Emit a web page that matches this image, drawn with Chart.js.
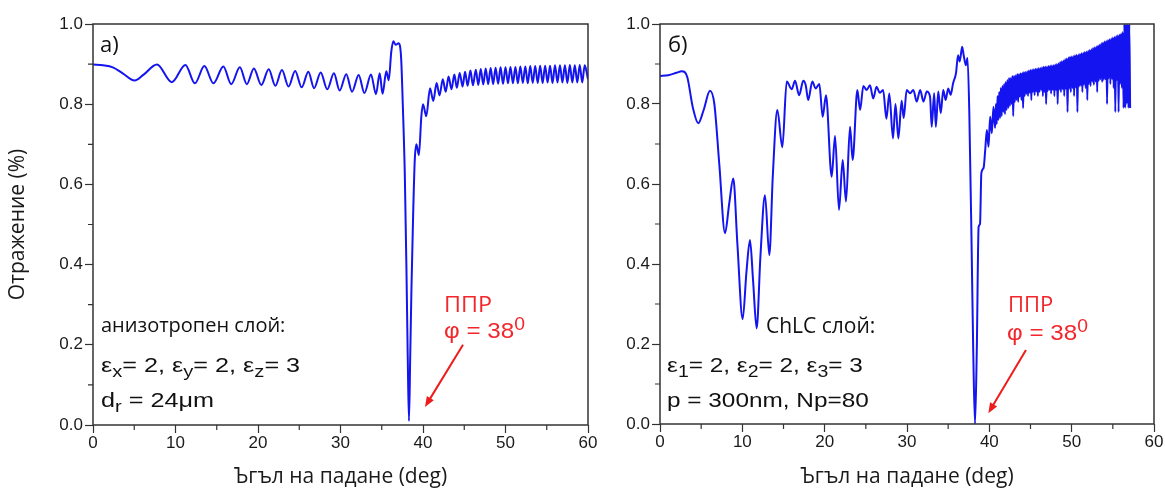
<!DOCTYPE html>
<html lang="bg">
<head>
<meta charset="UTF-8">
<title>Отражение - ППР</title>
<script src="https://cdn.jsdelivr.net/npm/chart.js"></script>
<style>
  body { margin: 0; background: #fff; width: 1165px; height: 493px; position: relative; overflow: hidden; }
  canvas { position: absolute; top: 0; }
  #chartA { left: 0; }
  #chartB { left: 600px; }
  .note { position: absolute; white-space: nowrap; line-height: 1; color: #111; transform-origin: 0 0; }
  .os { font-family: 'Open Sans', sans-serif; }
  .ar { font-family: 'Liberation Sans', Arial, sans-serif; }
  .red { color: #f2262b; }
  sub, sup { font-size: 80%; line-height: 0; }
</style>
</head>
<body>
<canvas id="chartA" width="600" height="493"></canvas>
<canvas id="chartB" width="565" height="493"></canvas>

<!-- надписи, панел а) -->
<div class="note os" style="left:100px; top:32px; font-size:22px;">a)</div>
<div class="note os" style="left:101px; top:315px; font-size:20px;">анизотропен слой:</div>
<div class="note ar" style="left:101px; top:354px; font-size:21px; transform:scaleX(1.2);">ε<sub>x</sub>= 2, ε<sub>y</sub>= 2, ε<sub>z</sub>= 3</div>
<div class="note ar" style="left:101px; top:389px; font-size:21px; transform:scaleX(1.2);">d<sub>r</sub> = 24μm</div>
<div class="note os red" style="left:444px; top:292px; font-size:22px; transform:scaleX(1.06);">ППР</div>
<div class="note ar red" style="left:444px; top:320px; font-size:22px; transform:scaleX(1.1);">φ = 38<sup>0</sup></div>

<!-- надписи, панел б) -->
<div class="note os" style="left:668px; top:32px; font-size:22px;">б)</div>
<div class="note os" style="left:766px; top:315px; font-size:21px;">ChLC слой:</div>
<div class="note ar" style="left:667px; top:354px; font-size:21px; transform:scaleX(1.16);">ε<sub>1</sub>= 2, ε<sub>2</sub>= 2, ε<sub>3</sub>= 3</div>
<div class="note ar" style="left:667px; top:389px; font-size:21px; transform:scaleX(1.16);">p = 300nm, Np=80</div>
<div class="note os red" style="left:1008px; top:292px; font-size:22px;">ППР</div>
<div class="note ar red" style="left:1007px; top:322px; font-size:22px; transform:scaleX(1.1);">φ = 38<sup>0</sup></div>

<script>
// а) анизотропен слой
const aAngle = [
  0, 1.2, 2.4, 3.6, 5.05, 6.1, 7.75, 9.55, 11.2, 12.35,
  13.5, 14.6, 15.8, 16.75, 17.8, 18.65, 19.5, 20.4, 21.3, 22.1,
  22.9, 23.7, 24.5, 25.3, 26.1, 26.8, 27.6, 28.4, 29.2, 29.9,
  30.7, 31.4, 32.2, 32.9, 33.7, 34.3, 34.75, 35.1, 35.55, 35.85,
  36.15, 36.4, 36.7, 37.05, 37.35, 37.55, 37.8, 38.0, 38.15, 38.3,
  38.45, 38.6, 38.8, 39.0, 39.2, 39.5, 39.8, 40.0, 40.4, 40.85,
  41.25, 41.65, 42.0, 42.4, 42.75, 43.1, 43.45, 43.8, 44.1, 44.45,
  44.8, 45.1, 45.4, 45.75, 46.05, 46.4, 46.7, 47.0, 47.3, 47.6,
  47.9, 48.2, 48.5, 48.8, 49.1, 49.4, 49.7, 50.0, 50.3, 50.6,
  50.9, 51.2, 51.5, 51.8, 52.1, 52.4, 52.7, 53.0, 53.3, 53.6,
  53.9, 54.2, 54.5, 54.8, 55.1, 55.4, 55.7, 56.0, 56.3, 56.6,
  56.9, 57.2, 57.5, 57.8, 58.1, 58.4, 58.7, 59.0, 59.3, 59.6, 60
];
const aRefl = [
  0.899, 0.897, 0.892, 0.877, 0.859, 0.873, 0.899, 0.855, 0.898, 0.852,
  0.895, 0.852, 0.894, 0.850, 0.892, 0.850, 0.889, 0.848, 0.887, 0.846,
  0.885, 0.844, 0.883, 0.842, 0.881, 0.840, 0.879, 0.837, 0.877, 0.834,
  0.875, 0.831, 0.873, 0.828, 0.874, 0.825, 0.877, 0.826, 0.882, 0.860,
  0.930, 0.957, 0.948, 0.952, 0.915, 0.800, 0.620, 0.380, 0.170, 0.010,
  0.170, 0.340, 0.520, 0.660, 0.700, 0.673, 0.770, 0.800, 0.770, 0.840,
  0.808, 0.853, 0.822, 0.862, 0.831, 0.869, 0.837, 0.874, 0.841, 0.878,
  0.844, 0.881, 0.846, 0.884, 0.847, 0.886, 0.848, 0.888, 0.849, 0.889,
  0.850, 0.890, 0.850, 0.891, 0.851, 0.892, 0.851, 0.892, 0.852, 0.893,
  0.852, 0.893, 0.852, 0.894, 0.853, 0.894, 0.852, 0.895, 0.853, 0.895,
  0.853, 0.896, 0.853, 0.896, 0.854, 0.896, 0.853, 0.897, 0.854, 0.897,
  0.854, 0.897, 0.853, 0.898, 0.854, 0.897, 0.854, 0.898, 0.854, 0.897, 0.862
];

// б) ChLC слой
const bAngle = [
  0, 1.0, 2.0, 2.65, 3.3, 4.0, 4.65, 5.3, 6.07, 6.6,
  7.2, 7.9, 8.4, 8.9, 9.4, 10.04, 10.5, 10.93, 11.3, 11.74,
  12.2, 12.75, 13.28, 13.7, 14.25, 14.86, 15.39, 16.0, 16.4, 16.9,
  17.4, 17.7, 18.0, 18.5, 18.9, 19.35, 19.76, 20.16, 20.85, 21.26,
  21.74, 22.19, 22.59, 23.08, 23.4, 23.97, 24.3, 24.7, 25.1, 25.5,
  25.9, 26.3, 26.7, 27.1, 27.5, 27.85, 28.3, 28.6, 28.95, 29.35,
  29.6, 29.96, 30.37, 30.77, 31.18, 31.6, 32.0, 32.4, 32.8, 33.0,
  33.3, 33.5, 33.8, 34.1, 34.4, 34.7, 35.0, 35.3, 35.6, 35.95,
  36.2, 36.4, 36.7, 36.9, 37.15, 37.35, 37.57, 37.86, 38.05, 38.26,
  38.47, 38.7, 38.87, 39.03, 39.3, 39.5, 39.7, 39.9, 40.1, 40.3,
  40.5,
  40.7, 40.8, 40.9, 41.0, 41.1, 41.2, 41.3, 41.4, 41.5, 41.6,
  41.7, 41.8, 41.9, 42.0, 42.1, 42.2, 42.3, 42.4, 42.5, 42.6,
  42.7, 42.8, 42.9, 43.0, 43.1, 43.2, 43.3, 43.4, 43.5, 43.6,
  43.7, 43.8, 43.9, 44.0, 44.1, 44.2, 44.3, 44.4, 44.5, 44.6,
  44.7, 44.8, 44.9, 45.0, 45.1, 45.2, 45.3, 45.4, 45.5, 45.6,
  45.7, 45.8, 45.9, 46.0, 46.1, 46.2, 46.3, 46.4, 46.5, 46.6,
  46.7, 46.8, 46.9, 47.0, 47.1, 47.2, 47.3, 47.4, 47.5, 47.6,
  47.7, 47.8, 47.9, 48.0, 48.1, 48.2, 48.3, 48.4, 48.5, 48.6,
  48.7, 48.8, 48.9, 49.0, 49.1, 49.2, 49.3, 49.4, 49.5, 49.6,
  49.7, 49.8, 49.9, 50.0, 50.1, 50.2, 50.3, 50.4, 50.5, 50.6,
  50.7, 50.8, 50.9, 51.0, 51.1, 51.2, 51.3, 51.4, 51.5, 51.6,
  51.7, 51.8, 51.9, 52.0, 52.1, 52.2, 52.3, 52.4, 52.5, 52.6,
  52.7, 52.8, 52.9, 53.0, 53.1, 53.2, 53.3, 53.4, 53.5, 53.6,
  53.7, 53.8, 53.9, 54.0, 54.1, 54.2, 54.3, 54.4, 54.5, 54.6,
  54.7, 54.8, 54.9, 55.0, 55.1, 55.2, 55.3, 55.4, 55.5, 55.6,
  55.7, 55.8, 55.9, 56.0, 56.1, 56.2, 56.3, 56.4, 56.5, 56.6,
  56.7, 56.8, 56.9, 57.0, 57.1
];
const bRefl = [
  0.870, 0.872, 0.878, 0.882, 0.868, 0.790, 0.752, 0.785, 0.833, 0.800,
  0.650, 0.477, 0.550, 0.614, 0.450, 0.262, 0.380, 0.460, 0.360, 0.239,
  0.420, 0.572, 0.422, 0.620, 0.785, 0.692, 0.856, 0.837, 0.858, 0.822,
  0.858, 0.847, 0.810, 0.856, 0.839, 0.850, 0.768, 0.822, 0.618, 0.720,
  0.535, 0.660, 0.556, 0.743, 0.660, 0.835, 0.785, 0.845, 0.835, 0.847,
  0.814, 0.843, 0.828, 0.835, 0.763, 0.826, 0.714, 0.800, 0.714, 0.808,
  0.765, 0.835, 0.827, 0.835, 0.806, 0.835, 0.806, 0.831, 0.818, 0.743,
  0.827, 0.743, 0.831, 0.777, 0.835, 0.810, 0.839, 0.823, 0.852, 0.877,
  0.922, 0.906, 0.943, 0.920, 0.897, 0.915, 0.777, 0.427, 0.177, 0.000,
  0.177, 0.493, 0.500, 0.627, 0.640, 0.685, 0.735, 0.693, 0.768, 0.727,
  0.793,
  0.740, 0.800, 0.750, 0.820, 0.760, 0.830, 0.765, 0.840, 0.770, 0.845,
  0.780, 0.850, 0.775, 0.855, 0.785, 0.860, 0.790, 0.865, 0.795, 0.865,
  0.800, 0.870, 0.770, 0.870, 0.805, 0.872, 0.810, 0.875, 0.805, 0.875,
  0.818, 0.877, 0.810, 0.878, 0.790, 0.880, 0.820, 0.880, 0.825, 0.882,
  0.820, 0.884, 0.828, 0.885, 0.810, 0.886, 0.830, 0.887, 0.822, 0.888,
  0.831, 0.889, 0.820, 0.890, 0.830, 0.890, 0.835, 0.892, 0.820, 0.893,
  0.830, 0.894, 0.800, 0.894, 0.832, 0.895, 0.835, 0.896, 0.826, 0.897,
  0.835, 0.897, 0.820, 0.899, 0.835, 0.900, 0.800, 0.902, 0.836, 0.905,
  0.830, 0.907, 0.837, 0.909, 0.820, 0.912, 0.838, 0.914, 0.780, 0.916,
  0.838, 0.918, 0.830, 0.919, 0.840, 0.920, 0.820, 0.922, 0.842, 0.923,
  0.780, 0.924, 0.844, 0.925, 0.846, 0.927, 0.830, 0.928, 0.848, 0.930,
  0.840, 0.931, 0.810, 0.933, 0.850, 0.935, 0.845, 0.937, 0.855, 0.940,
  0.848, 0.942, 0.856, 0.944, 0.830, 0.946, 0.858, 0.948, 0.862, 0.952,
  0.855, 0.954, 0.860, 0.956, 0.862, 0.958, 0.800, 0.960, 0.864, 0.962,
  0.850, 0.964, 0.862, 0.966, 0.840, 0.968, 0.780, 0.970, 0.860, 0.972,
  0.780, 0.974, 0.850, 0.976, 0.840, 0.980, 0.790, 1.000, 0.790, 1.000,
  0.800, 1.000, 0.790, 1.000, 0.790
];

const yLabels = ['0.0', '0.2', '0.4', '0.6', '0.8', '1.0'];
const xMinor = [5, 15, 25, 35, 45, 55];
const yMinor = [0.1, 0.3, 0.5, 0.7, 0.9];

const tickFont = { family: "'Liberation Sans', Arial, sans-serif", size: 17 };
const titleFont = { family: "'Open Sans', sans-serif", size: 21 };

// рамка, второстепенни чертички и червена стрелка
const framePlugin = {
  id: 'frame',
  afterDraw(chart, args, o) {
    const { ctx, chartArea: a, scales: { x, y } } = chart;
    ctx.save();
    ctx.strokeStyle = '#333';
    ctx.lineWidth = 1.5;
    ctx.strokeRect(a.left, a.top, a.right - a.left, a.bottom - a.top);
    ctx.lineWidth = 1.2;
    ctx.beginPath();
    xMinor.forEach(v => {
      const px = x.getPixelForValue(v);
      ctx.moveTo(px, a.bottom);
      ctx.lineTo(px, a.bottom + 5);
    });
    yMinor.forEach(v => {
      const py = y.getPixelForValue(v);
      ctx.moveTo(a.left, py);
      ctx.lineTo(a.left - 5, py);
    });
    ctx.stroke();

    const [x0, y0, x1, y1] = o.arrow;
    const sx = x.getPixelForValue(x0), sy = y.getPixelForValue(y0);
    const ex = x.getPixelForValue(x1), ey = y.getPixelForValue(y1);
    const ang = Math.atan2(ey - sy, ex - sx);
    ctx.strokeStyle = '#ee1c1c';
    ctx.fillStyle = '#ee1c1c';
    ctx.lineWidth = 2;
    ctx.beginPath();
    ctx.moveTo(sx, sy);
    ctx.lineTo(ex - 8 * Math.cos(ang), ey - 8 * Math.sin(ang));
    ctx.stroke();
    ctx.beginPath();
    ctx.moveTo(ex, ey);
    ctx.lineTo(ex - 11 * Math.cos(ang - 0.38), ey - 11 * Math.sin(ang - 0.38));
    ctx.lineTo(ex - 11 * Math.cos(ang + 0.38), ey - 11 * Math.sin(ang + 0.38));
    ctx.closePath();
    ctx.fill();
    ctx.restore();
  }
};

function makeChart(id, angle, refl, cfg) {
  const points = angle.map((v, i) => ({ x: v, y: refl[i] }));
  return new Chart(document.getElementById(id), {
    type: 'line',
    data: {
      datasets: [{
        data: points,
        borderColor: '#1414f0',
        borderWidth: 2,
        pointRadius: 0,
        cubicInterpolationMode: 'monotone',
        fill: false
      }]
    },
    options: {
      responsive: false,
      animation: false,
      layout: { padding: { left: 0, top: 24, right: cfg.right, bottom: 0 } },
      plugins: {
        legend: { display: false },
        tooltip: { enabled: false },
        frame: { arrow: cfg.arrow }
      },
      scales: {
        x: {
          type: 'linear', min: 0, max: 60,
          afterFit: s => { s.height = cfg.xHeight; },
          ticks: { stepSize: 10, color: '#1a1a1a', font: tickFont, padding: 0, maxRotation: 0 },
          grid: { drawOnChartArea: false, tickLength: 8, tickColor: '#333', tickWidth: 1.2 },
          border: { display: false },
          title: {
            display: true, text: 'Ъгъл на падане (deg)', color: '#1a1a1a',
            font: titleFont, padding: { top: 0, bottom: 3 }
          }
        },
        y: {
          type: 'linear', min: 0, max: 1,
          afterFit: s => { s.width = cfg.yWidth; },
          ticks: {
            stepSize: 0.2, color: '#1a1a1a', font: tickFont, padding: 2,
            callback: v => yLabels[Math.round(v * 5)]
          },
          grid: { drawOnChartArea: false, tickLength: 8, tickColor: '#333', tickWidth: 1.2 },
          border: { display: false },
          title: {
            display: cfg.yTitle, text: 'Отражение (%)', color: '#1a1a1a',
            font: titleFont, padding: { top: 5, bottom: 0 }
          }
        }
      }
    },
    plugins: [framePlugin]
  });
}

makeChart('chartA', aAngle, aRefl, {
  right: 12, xHeight: 68, yWidth: 93, yTitle: true,
  arrow: [44.85, 0.2, 40.24, 0.045]
});
makeChart('chartB', bAngle, bRefl, {
  right: 11, xHeight: 69, yWidth: 60, yTitle: false,
  arrow: [44.45, 0.185, 39.88, 0.027]
});
</script>
</body>
</html>
